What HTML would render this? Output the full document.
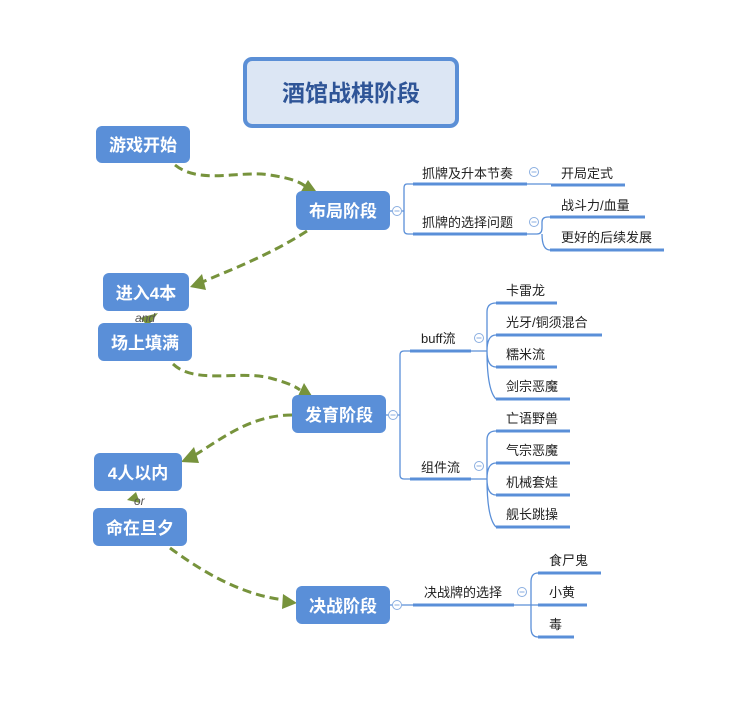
<!DOCTYPE html>
<html><head><meta charset="utf-8"><style>
html,body{margin:0;padding:0;background:#fff;}
svg{display:block;font-family:"Liberation Sans","Noto Sans CJK SC",sans-serif;}
.n{fill:#5a8fd8;}
.nt{fill:#fff;font-weight:bold;font-size:17px;text-anchor:middle;}
.t{fill:#222;font-size:13px;}
.u{stroke:#5a8fd8;stroke-width:3;fill:none;}
.l{stroke:#5a8fd8;stroke-width:1.3;fill:none;}
.c{fill:#fff;stroke:#8aaee0;stroke-width:1;}
.m{stroke:#8aaee0;stroke-width:1;}
.d{stroke:#77933c;stroke-width:3;fill:none;stroke-dasharray:9 5;}
.a{fill:#77933c;}
</style></head><body>
<svg width="755" height="719" viewBox="0 0 755 719">
<rect x="245" y="59" width="212" height="67" rx="7" fill="#dce6f4" stroke="#5b8fd6" stroke-width="4"/>
<text x="351" y="101" text-anchor="middle" font-size="23" font-weight="bold" fill="#2f5597">酒馆战棋阶段</text>

<path class="d" d="M175,165 C200,185 240,170 270,175 C290,178 300,182 305,186"/>
<polygon class="a" points="316,191 300,193 308,180"/>
<path class="d" d="M307,231 C270,255 230,270 200,283"/>
<polygon class="a" points="190,287 202,274 206,290"/>
<path class="d" d="M173,364 C195,385 240,370 270,378 C285,382 295,386 300,390"/>
<polygon class="a" points="312,396 297,398 304,383"/>
<path class="d" d="M292,415 C250,415 220,440 195,455"/>
<polygon class="a" points="181,462 194,447 199,463"/>
<path class="d" d="M170,548 C200,570 240,595 285,600"/>
<polygon class="a" points="297,603 282,609 283,594"/>
<polygon class="a" points="140,318 158,313 148,326"/>
<polygon class="a" points="127,500 136,492 140,503"/>
<text x="135" y="322" font-size="12" font-style="italic" fill="#555">and</text>
<text x="134" y="505" font-size="12" font-style="italic" fill="#555">or</text>

<rect class="n" x="96" y="126" width="94" height="37" rx="6"/><text class="nt" x="143" y="151">游戏开始</text>
<rect class="n" x="296" y="191" width="94" height="39" rx="6"/><text class="nt" x="343" y="217">布局阶段</text>
<rect class="n" x="103" y="273" width="86" height="38" rx="6"/><text class="nt" x="146" y="299">进入4本</text>
<rect class="n" x="98" y="323" width="94" height="38" rx="6"/><text class="nt" x="145" y="349">场上填满</text>
<rect class="n" x="292" y="395" width="94" height="38" rx="6"/><text class="nt" x="339" y="421">发育阶段</text>
<rect class="n" x="94" y="453" width="88" height="38" rx="6"/><text class="nt" x="138" y="479">4人以内</text>
<rect class="n" x="93" y="508" width="94" height="38" rx="6"/><text class="nt" x="140" y="534">命在旦夕</text>
<rect class="n" x="296" y="586" width="94" height="38" rx="6"/><text class="nt" x="343" y="612">决战阶段</text>

<path class="l" d="M390,211 H404 M413,184 H407 Q404,184 404,188 V230 Q404,234 408,234 H413"/>
<path class="u" d="M413,184 H527 M413,234 H527"/>
<path class="l" d="M527,184 H551 M527,234 H537 Q542,234 542,228 V222 Q542,217 548,217 H551 M542,234 Q542,250 550,250"/>
<path class="u" d="M551,185 H625 M550,217 H645 M550,250 H664"/>
<text class="t" x="422" y="178">抓牌及升本节奏</text>
<text class="t" x="561" y="178">开局定式</text>
<text class="t" x="422" y="227">抓牌的选择问题</text>
<text class="t" x="561" y="210">战斗力/血量</text>
<text class="t" x="561" y="242">更好的后续发展</text>

<path class="l" d="M386,415 H400 M410,351 H404 Q400,351 400,355 V475 Q400,479 404,479 H410"/>
<path class="u" d="M410,351 H471 M410,479 H471"/>
<path class="l" d="M471,351 H487 M496,303 Q487,303 487,312 V351 Q487,390 496,399 M487,351 Q487,335 496,335 M487,351 Q487,367 496,367"/>
<path class="l" d="M471,479 H487 M496,431 Q487,431 487,440 V479 Q487,518 496,527 M487,479 Q487,463 496,463 M487,479 Q487,495 496,495"/>
<path class="u" d="M496,303 H557 M496,335 H602 M496,367 H557 M496,399 H570 M496,431 H570 M496,463 H570 M496,495 H570 M496,527 H570"/>
<text class="t" x="421" y="343">buff流</text>
<text class="t" x="421" y="472">组件流</text>
<text class="t" x="506" y="295">卡雷龙</text>
<text class="t" x="506" y="327">光牙/铜须混合</text>
<text class="t" x="506" y="359">糯米流</text>
<text class="t" x="506" y="391">剑宗恶魔</text>
<text class="t" x="506" y="423">亡语野兽</text>
<text class="t" x="506" y="455">气宗恶魔</text>
<text class="t" x="506" y="487">机械套娃</text>
<text class="t" x="506" y="519">舰长跳操</text>

<path class="l" d="M390,605 H413"/>
<path class="u" d="M413,605 H514"/>
<path class="l" d="M514,605 H538 M538,573 Q531,573 531,582 V628 Q531,637 538,637"/>
<path class="u" d="M538,573 H601 M538,605 H587 M538,637 H574"/>
<text class="t" x="424" y="597">决战牌的选择</text>
<text class="t" x="549" y="565">食尸鬼</text>
<text class="t" x="549" y="597">小黄</text>
<text class="t" x="549" y="629">毒</text>

<g>
<circle class="c" cx="397" cy="211" r="4.5"/><line class="m" x1="394.5" y1="211" x2="399.5" y2="211"/>
<circle class="c" cx="534" cy="172" r="4.5"/><line class="m" x1="531.5" y1="172" x2="536.5" y2="172"/>
<circle class="c" cx="534" cy="222" r="4.5"/><line class="m" x1="531.5" y1="222" x2="536.5" y2="222"/>
<circle class="c" cx="393" cy="415" r="4.5"/><line class="m" x1="390.5" y1="415" x2="395.5" y2="415"/>
<circle class="c" cx="479" cy="338" r="4.5"/><line class="m" x1="476.5" y1="338" x2="481.5" y2="338"/>
<circle class="c" cx="479" cy="466" r="4.5"/><line class="m" x1="476.5" y1="466" x2="481.5" y2="466"/>
<circle class="c" cx="397" cy="605" r="4.5"/><line class="m" x1="394.5" y1="605" x2="399.5" y2="605"/>
<circle class="c" cx="522" cy="592" r="4.5"/><line class="m" x1="519.5" y1="592" x2="524.5" y2="592"/>
</g>
</svg>
</body></html>
